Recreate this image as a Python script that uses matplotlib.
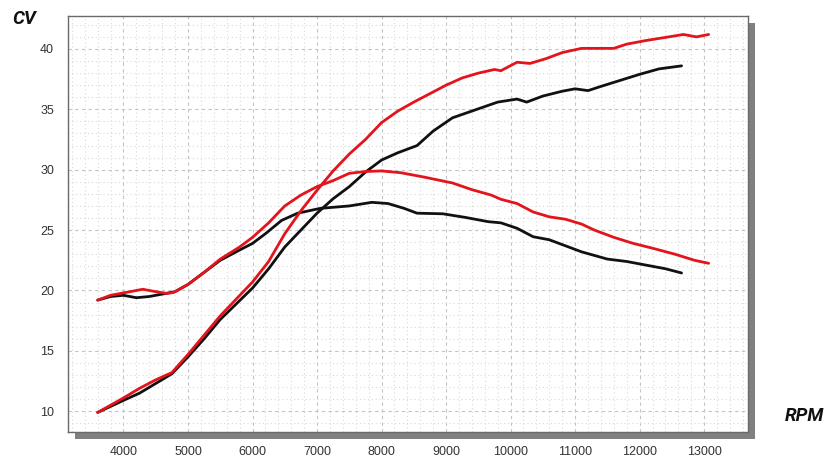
import matplotlib
matplotlib.use("Agg")
import matplotlib.pyplot as plt
from matplotlib.patches import Rectangle
from matplotlib.ticker import MultipleLocator

# red curves (upper power / torque)
red_pw_rpm = [3600, 3800, 4000, 4250, 4500, 4750, 5000, 5250, 5500, 5750, 6000, 6250, 6500, 6750,
              7000, 7250, 7500, 7750, 8000, 8250, 8500, 8750, 9000, 9250, 9500, 9750, 9850, 10100,
              10300, 10550, 10800, 11100, 11600, 11800, 12100, 12450, 12680, 12880, 13070]
red_pw_cv = [9.9, 10.5, 11.1, 11.9, 12.6, 13.2, 14.7, 16.3, 17.9, 19.3, 20.7, 22.4, 24.7, 26.6,
             28.3, 29.9, 31.3, 32.5, 33.9, 34.85, 35.6, 36.3, 37.0, 37.6, 38.0, 38.3, 38.2, 38.9,
             38.8, 39.2, 39.7, 40.05, 40.05, 40.4, 40.7, 41.0, 41.2, 41.0, 41.2]

red_tq_rpm = [3600, 3800, 4000, 4300, 4500, 4680, 4780, 5000, 5250, 5500, 5800, 6000, 6250, 6500,
              6750, 7000, 7250, 7500, 7750, 8000, 8300, 8650, 9100, 9400, 9700, 9850, 10100, 10350,
              10600, 10850, 11100, 11300, 11600, 11900, 12200, 12550, 12850, 13070]
red_tq_cv = [19.2, 19.6, 19.8, 20.1, 19.9, 19.75, 19.85, 20.5, 21.5, 22.6, 23.6, 24.4, 25.6, 27.0,
             27.9, 28.6, 29.1, 29.7, 29.85, 29.9, 29.75, 29.4, 28.9, 28.35, 27.9, 27.55, 27.2, 26.5,
             26.1, 25.9, 25.5, 25.0, 24.4, 23.9, 23.5, 23.0, 22.5, 22.25]

# black curves
blk_pw_rpm = [3600, 3800, 4000, 4250, 4500, 4750, 5000, 5250, 5500, 5750, 6000, 6250, 6500, 6750,
              7000, 7250, 7500, 7750, 8000, 8250, 8550, 8800, 9100, 9450, 9800, 10100, 10250, 10500,
              10800, 11000, 11200, 11400, 11700, 12000, 12300, 12650]
blk_pw_cv = [9.9, 10.4, 10.9, 11.5, 12.3, 13.1, 14.5, 16.0, 17.6, 18.9, 20.2, 21.8, 23.6, 25.0,
             26.4, 27.6, 28.6, 29.8, 30.8, 31.4, 32.0, 33.2, 34.3, 34.95, 35.6, 35.85, 35.6, 36.1,
             36.5, 36.7, 36.55, 36.9, 37.4, 37.9, 38.35, 38.6]

blk_tq_rpm = [3600, 3800, 4000, 4200, 4400, 4600, 4800, 5000, 5250, 5500, 5800, 6000, 6200, 6450,
              6700, 7050, 7500, 7850, 8100, 8350, 8550, 8950, 9300, 9650, 9850, 10100, 10350, 10600,
              10850, 11100, 11300, 11500, 11800, 12100, 12400, 12650]
blk_tq_cv = [19.2, 19.5, 19.6, 19.4, 19.5, 19.7, 19.9, 20.5, 21.5, 22.5, 23.35, 23.9, 24.7, 25.8,
             26.4, 26.8, 27.0, 27.3, 27.2, 26.8, 26.4, 26.35, 26.05, 25.7, 25.6, 25.15, 24.45, 24.2,
             23.7, 23.2, 22.9, 22.6, 22.4, 22.1, 21.8, 21.45]

x_ticks = [4000, 5000, 6000, 7000, 8000, 9000, 10000, 11000, 12000, 13000]
y_ticks = [10, 15, 20, 25, 30, 35, 40]

W, H = 831, 457
fig = plt.figure(figsize=(W / 100, H / 100), dpi=100)

# axes box in pixels
left, right, top, bottom = 68, 748, 16, 432
ax = fig.add_axes([left / W, 1 - bottom / H, (right - left) / W, (bottom - top) / H])

# drop shadow behind the plot box
off = 7
shadow = Rectangle(((left + off) / W, 1 - (bottom + off) / H), (right - left) / W, (bottom - top) / H,
                   transform=fig.transFigure, facecolor="#808080", edgecolor="none", zorder=0)
fig.patches.append(shadow)
ax.set_zorder(1)
ax.set_facecolor("white")

ax.plot(blk_pw_rpm, blk_pw_cv, color="#111111", lw=2.0, solid_capstyle="round")
ax.plot(blk_tq_rpm, blk_tq_cv, color="#111111", lw=2.0, solid_capstyle="round")
ax.plot(red_pw_rpm, red_pw_cv, color="#e3141b", lw=2.0, solid_capstyle="round")
ax.plot(red_tq_rpm, red_tq_cv, color="#e3141b", lw=2.0, solid_capstyle="round")

ax.set_xlim(3140, 13680)
ax.set_ylim(8.28, 42.73)
ax.set_xticks(x_ticks)
ax.set_yticks(y_ticks)
ax.xaxis.set_minor_locator(MultipleLocator(200))
ax.yaxis.set_minor_locator(MultipleLocator(1))

ax.grid(which="major", color="#c4c4c4", lw=0.8, linestyle=(0, (3, 3)))
ax.grid(which="minor", color="#d9d9d9", lw=0.8, linestyle=(0, (1, 2.5)))
ax.set_axisbelow(True)

ax.tick_params(which="both", length=0)
ax.tick_params(axis="x", pad=10, labelsize=9, labelcolor="#333333")
ax.tick_params(axis="y", pad=10, labelsize=9, labelcolor="#333333")
for lab in ax.get_xticklabels() + ax.get_yticklabels():
    lab.set_family("Liberation Sans")

for s in ax.spines.values():
    s.set_color("#6a6a6a")
    s.set_linewidth(1.0)

fig.text(24 / W, 1 - 19 / H, "CV", fontsize=13.5, fontweight="bold", fontstyle="italic",
         family="Roboto", ha="center", va="center", color="#111111")
fig.text(804 / W, 1 - 416 / H, "RPM", fontsize=13.5, fontweight="bold", fontstyle="italic",
         family="Roboto", ha="center", va="center", color="#111111")

fig.savefig("out.png", dpi=100, facecolor="white")
